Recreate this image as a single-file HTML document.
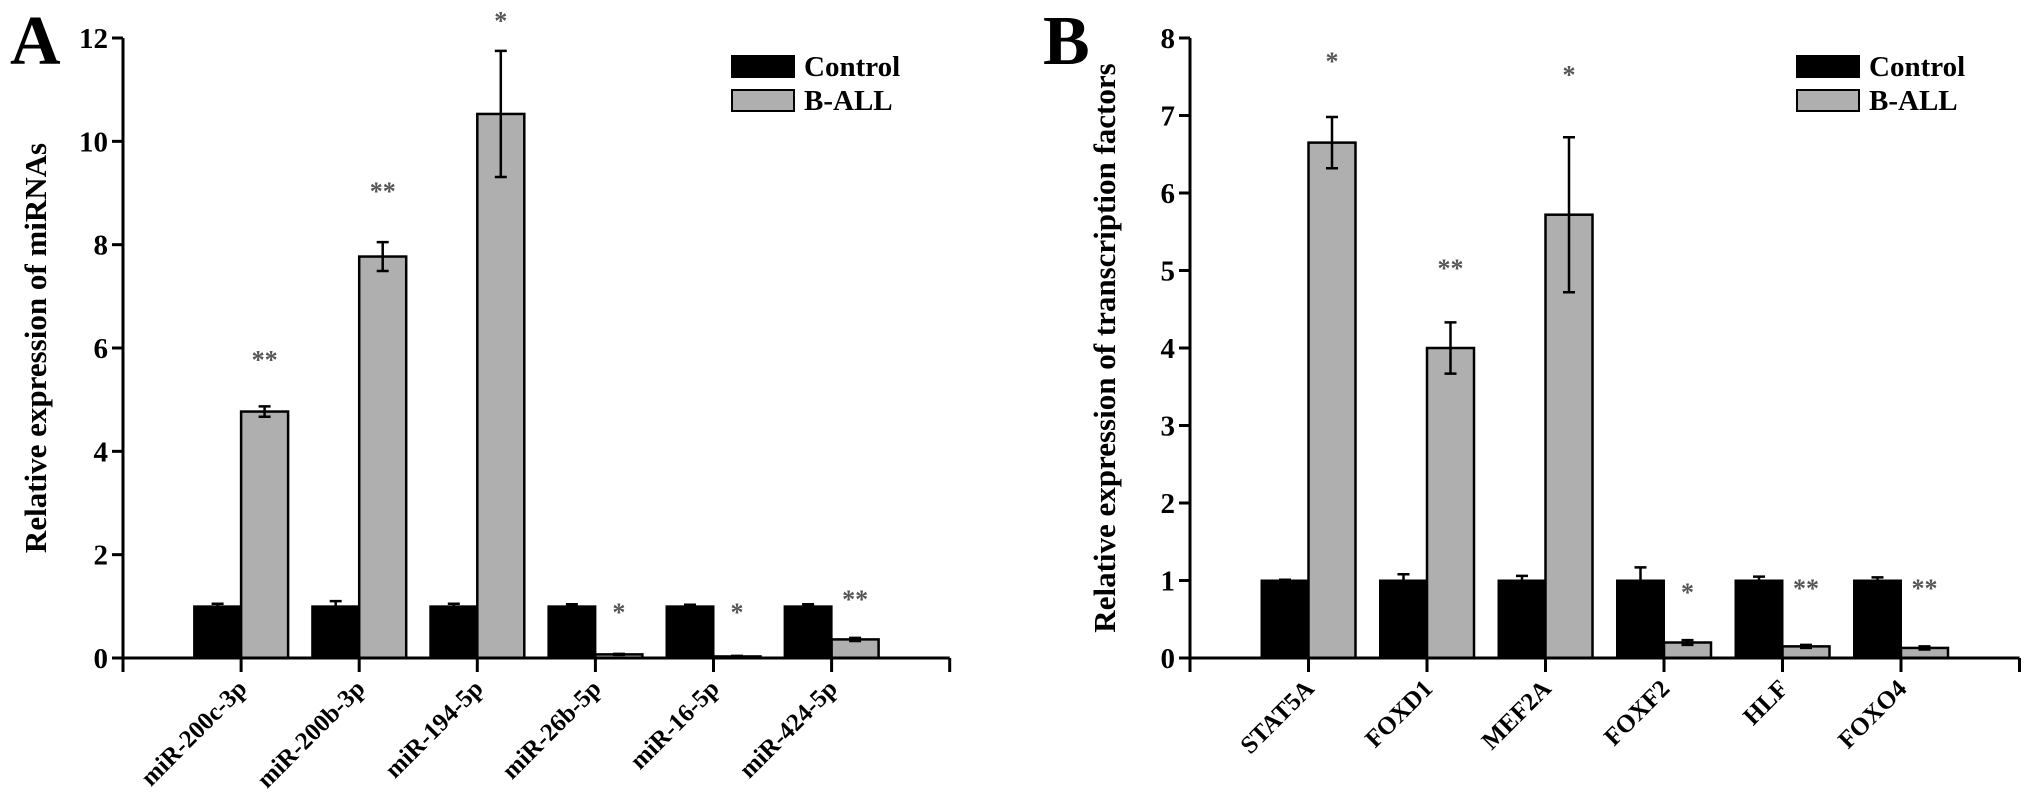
<!DOCTYPE html>
<html><head><meta charset="utf-8"><style>
html,body{margin:0;padding:0;background:#fff;}
svg{display:block;font-family:"Liberation Serif",serif;font-weight:bold;}
</style></head><body>
<svg id="fig" width="2031" height="800" viewBox="0 0 2031 800" xmlns="http://www.w3.org/2000/svg"></svg>
<script>
// Panel A data
const catsA = ["miR-200c-3p","miR-200b-3p","miR-194-5p","miR-26b-5p","miR-16-5p","miR-424-5p"];
const ctrlA = [1,1,1,1,1,1];
const ctrlErrA = [0.05,0.1,0.05,0.04,0.03,0.04];
const ballA = [4.77,7.77,10.53,0.07,0.03,0.36];
const ballErrA = [0.1,0.28,1.22,0.01,0.01,0.03];
const starsA = ["**","**","*","*","*","**"];
const starYA = [5.84,9.1,12.4,0.95,0.95,1.2];
const ticksA = [0,2,4,6,8,10,12];
// Panel B data
const catsB = ["STAT5A","FOXD1","MEF2A","FOXF2","HLF","FOXO4"];
const ctrlB = [1,1,1,1,1,1];
const ctrlErrB = [0.01,0.08,0.06,0.17,0.05,0.04];
const ballB = [6.65,4.0,5.72,0.2,0.15,0.13];
const ballErrB = [0.33,0.33,1.0,0.03,0.02,0.02];
const starsB = ["*","**","*","*","**","**"];
const starYB = [7.74,5.07,7.57,0.89,0.94,0.94];
const ticksB = [0,1,2,3,4,5,6,7,8];

const NS="http://www.w3.org/2000/svg";
const svg=document.getElementById('fig');
function mk(tag,attrs,parent){const e=document.createElementNS(NS,tag);for(const k in attrs)e.setAttribute(k,attrs[k]);(parent||svg).appendChild(e);return e;}

function panel(o){
  const g=mk('g',{});
  
  
  const y=v=>o.y0-(v-0)/o.ymax*(o.y0-o.ytop);
  const step=o.step;
  const xc=i=>o.x0+(i+1)*step;
  const bw=47;
  o.cats.forEach((c,i)=>{
    const b1=mk('rect',{x:xc(i)-bw,y:y(o.ctrl[i]),width:bw,height:o.y0-y(o.ctrl[i]),fill:'#000',stroke:'#000','stroke-width':2},g);
    
    
    const b2=mk('rect',{x:xc(i),y:y(o.ball[i]),width:bw,height:o.y0-y(o.ball[i]),fill:'#afafaf',stroke:'#000','stroke-width':2.5},g);
    
    
    [[xc(i)-bw/2,o.ctrl[i],o.ctrlErr[i]],[xc(i)+bw/2,o.ball[i],o.ballErr[i]]].forEach(([cx,v,e])=>{
      const eb=mk('path',{d:`M${cx},${y(v+e)}V${y(v-e)}M${cx-6},${y(v+e)}H${cx+6}M${cx-6},${y(v-e)}H${cx+6}`,stroke:'#000','stroke-width':2.5,fill:'none'},g);
      
      
    });
    const s=mk('text',{x:xc(i)+bw/2,y:y(o.starY[i])+12,'text-anchor':'middle','font-size':26,fill:'#555'},g);
    s.textContent=o.stars[i];
    
    
    const lb=mk('text',{x:0,y:0,'text-anchor':'end','font-size':25,transform:`translate(${xc(i)+7},${o.y0+32}) rotate(-45)`},g);
    lb.textContent=c;
    
    
  });
  const xe=o.x0+7*step;
  const ax=mk('path',{d:`M${o.x0},${o.ytop}V${o.y0}H${xe}`,stroke:'#000','stroke-width':3,fill:'none'},g);
  
  
  for(let k=0;k<=7;k++){
    const t=mk('line',{x1:o.x0+k*step,x2:o.x0+k*step,y1:o.y0,y2:o.y0+14,stroke:'#000','stroke-width':3},g);
    
    
  }
  o.ticks.forEach(v=>{
    const t=mk('line',{x1:o.x0-11,x2:o.x0,y1:y(v),y2:y(v),stroke:'#000','stroke-width':3},g);
    
    
    const tl=mk('text',{x:o.x0-15,y:y(v)+10,'text-anchor':'end','font-size':29},g);
    tl.textContent=v;
    
    
  });
  const yt=mk('text',{x:0,y:0,'text-anchor':'middle','font-size':31,transform:`translate(${o.titleX},${(o.y0+o.ytop)/2}) rotate(-90)`},g);
  yt.textContent=o.title;
  
  
  const L=mk('text',{x:o.letterX,y:64,'font-size':70},g);
  L.textContent=o.id;
  
  
  const lg=mk('g',{},g);
  
  
  [['Control','#000'],['B-ALL','#afafaf']].forEach(([n,f],j)=>{
    const r=mk('rect',{x:o.legX,y:56+j*34,width:62,height:21,fill:f,stroke:'#000','stroke-width':2},lg);
    
    
    const t=mk('text',{x:o.legX+72,y:76+j*34,'font-size':29},lg);
    t.textContent=n;
    
    
  });
}
panel({id:'A',cats:catsA,ctrl:ctrlA,ctrlErr:ctrlErrA,ball:ballA,ballErr:ballErrA,stars:starsA,starY:starYA,ticks:ticksA,ymax:12,x0:123,y0:658,ytop:38,step:118.1,title:'Relative expression of miRNAs',titleX:46,letterX:10,legX:732});
panel({id:'B',cats:catsB,ctrl:ctrlB,ctrlErr:ctrlErrB,ball:ballB,ballErr:ballErrB,stars:starsB,starY:starYB,ticks:ticksB,ymax:8,x0:1190,y0:658,ytop:38,step:118.5,title:'Relative expression of transcription factors',titleX:1115,letterX:1043,legX:1797});
</script>
</body></html>
